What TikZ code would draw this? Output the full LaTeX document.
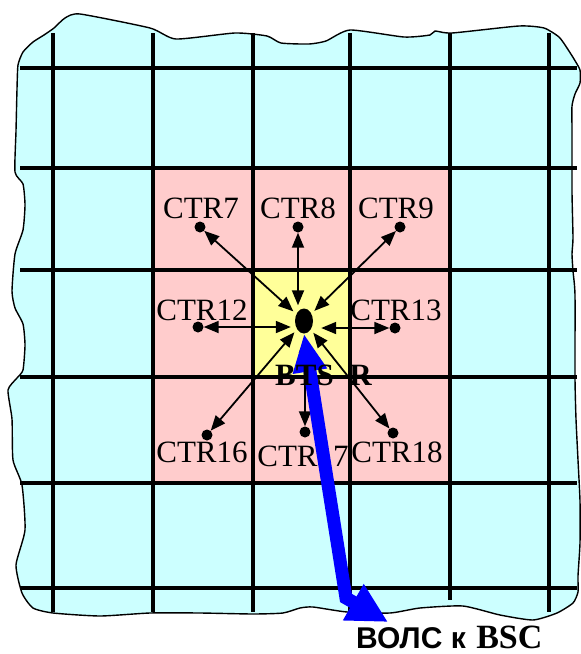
\documentclass[tikz,border=0pt]{standalone}
\usepackage{fontspec}
\setmainfont{Liberation Serif}
\newfontfamily\arialfont{Liberation Sans}
\usetikzlibrary{arrows.meta,shapes.geometric}
\definecolor{cyanbg}{RGB}{204,255,255}
\definecolor{pinkbg}{RGB}{255,204,204}
\definecolor{yellowbg}{RGB}{255,255,153}
\begin{document}
\begin{tikzpicture}[x=1pt,y=-1pt,
  gridline/.style={line width=4.5pt, black},
  lbl/.style={font=\fontsize{31}{31}\selectfont, inner sep=0pt, anchor=base},
  ctrdot/.style={circle, fill=black, minimum size=11pt, inner sep=0pt},
  link/.style={line width=1.8pt, {Triangle[length=15pt,width=12pt]}-{Triangle[length=15pt,width=12pt]}},
  fiber/.style={blue, line width=13pt, {Triangle[length=38pt,width=32pt]}-{Triangle[length=40pt,width=39pt]}}
]
\useasboundingbox (0,0) rectangle (581,654);
% blob
\draw[line width=1.4pt, fill=cyanbg] plot[smooth cycle, tension=0.35] coordinates {
 (33,42) (44,35) (54,28) (65,18) (80,14) (150,28) (176,39) (235,33) (267,36) (281,43) (309,44) (326,41) (350,30) (404,37) (430,35) (435,31) (452,33) (519,26) (544,28) (559,37) (567,48) (574,59) (580,70)
 (580,83) (575,94) (572,106) (572,131) (572,192) (573,238) (572,254) (573,271) (575,295) (575,378) (576,419) (578,460) (580,501) (580,543) (578,576) (578,592) (573,603) (557,613)
 (533,620) (500,615) (463,606) (420,608) (390,613) (347,612) (313,607) (300,608) (283,613) (253,614) (200,613) (150,613) (100,616) (53,613) (33,608)
 (22,593) (16,565) (25,530) (22,485) (13,460) (12,419) (8,390) (17,378) (23,370) (25,345) (23,324) (15,308) (12,291) (15,254) (23,230) (25,205) (23,184) (15,172) (16,131) (17,89) (18,65) (23,52)};
% coloured cells
\fill[pinkbg] (153,168) rectangle (450,483);
\fill[yellowbg] (253,270) rectangle (350,377);
% grid
\foreach \y in {68,168,270,377,483,588} \draw[gridline] (20,\y) -- (577,\y);
\foreach \x in {53,153,253,350,549} \draw[gridline] (\x,33) -- (\x,612);
\draw[gridline] (450,33) -- (450,600);
% labels
\node[lbl] (t7)  at (201,218) {CTR7};
\node[lbl] (t8)  at (298,218) {CTR8};
\node[lbl] (t9)  at (396,218) {CTR9};
\node[lbl] (t12) at (202,320) {CTR12};
\node[lbl] (t13) at (396,320) {CTR13};
\node[lbl] (t16) at (202,462) {CTR16};
\node[lbl] (t17) at (303,466) {CTR17};
\node[lbl] (t18) at (397,462) {CTR18};
% dots
\node[ctrdot] (c7)  at (200,227) {};
\node[ctrdot] (c8)  at (298,227) {};
\node[ctrdot] (c9)  at (400,227) {};
\node[ctrdot] (c12) at (198,327) {};
\node[ctrdot] (c13) at (395,328) {};
\node[ctrdot] (c16) at (207,435) {};
\node[ctrdot] (c17) at (305,432) {};
\node[ctrdot] (c18) at (393,433) {};
\node[ellipse, fill=black, minimum width=18pt, minimum height=25pt, inner sep=0pt] (bts) at (304,321) {};
% links
\draw[link, shorten >=4pt] (c7) -- (bts);
\draw[link, shorten >=3pt] (c8) -- (c8 |- bts.north);
\draw[link, shorten >=4pt] (c9) -- (bts);
\draw[link, shorten >=4pt] (c12) -- (c12 -| bts.west);
\draw[link, shorten >=8pt] (c13) -- (c13 -| bts.east);
\draw[link, shorten >=4pt] (c16) -- (bts);
\draw[link, shorten >=4pt] (c17) -- (c17 |- bts.south);
\draw[link, shorten >=4pt] (c18) -- (bts);
% fibre link
\coordinate (bend) at (346,598);
\coordinate (bsc) at (388,622);
\draw[fiber] (bts.south) -- (bend) -- (bsc);
\node[font=\fontsize{31}{31}\selectfont\bfseries, inner sep=0pt, anchor=base west] (btsr) at (275,385) {BTS\hspace{0.5em}R};
\node[inner sep=0pt, anchor=base west] (vols) at (356,648) {\fontsize{30}{30}\selectfont\arialfont\bfseries ВОЛС к\hspace{0.35em}{\fontsize{34}{34}\selectfont\rmfamily\bfseries BSC}};
\end{tikzpicture}
\end{document}
